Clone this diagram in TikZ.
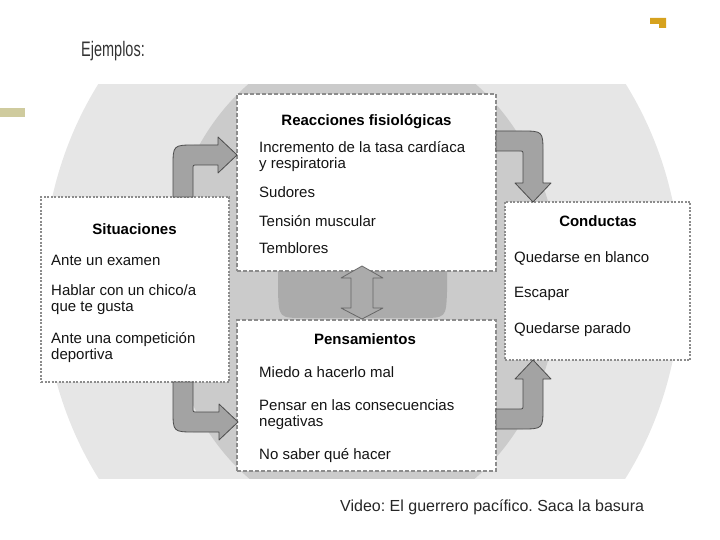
\documentclass[tikz,border=0pt]{standalone}
\usepackage{graphicx}
\usepackage{fontspec}
\setmainfont{Liberation Sans}
\frenchspacing
\usetikzlibrary{calc,positioning}
\definecolor{bgouter}{HTML}{E6E6E6}
\definecolor{bgmid}{HTML}{CBCBCB}
\definecolor{bgdark}{HTML}{ABABAB}
\definecolor{arrowgray}{HTML}{A3A3A3}
\definecolor{edgegray}{HTML}{8C8C8C}
\definecolor{olivebar}{HTML}{CFCB9E}
\definecolor{goldmark}{HTML}{D6A21E}
\definecolor{inkgray}{HTML}{141414}

\tikzset{
  midbox/.style={draw=edgegray, fill=white, line width=1.1pt, dash pattern=on 4pt off 2pt, inner sep=0pt, outer sep=0pt},
  sidebox/.style={midbox, dash pattern=on 2pt off 1.5pt},
  boxtitle/.style={font=\fontsize{15}{16}\selectfont\bfseries, text=black, inner sep=0pt, anchor=base},
  item/.style={font=\fontsize{15}{16}\selectfont, text=inkgray, inner sep=0pt, anchor=base west},
  arrowbody/.style={fill=arrowgray, draw=black!70, line width=0.8pt, line join=round},
  pics/bent/.style 2 args={code={
    \path[arrowbody] (-10,#1) -- (-10,12) .. controls (-10,-10) .. (12,-10)
      -- ({#2-19},-10) -- ({#2-19},-18) -- (#2,0) -- ({#2-19},18) -- ({#2-19},10)
      -- (14,10) .. controls (10,10) .. (10,14) -- (10,#1) -- cycle;
  }}
}

\begin{document}
\begin{tikzpicture}[x=1pt, y=-1pt]
  \useasboundingbox (0,0) rectangle (720,540);

  % Background rings
  \begin{scope}
    \clip (0,85) rectangle (720,478);
    \fill[bgouter] (362,281) ellipse [x radius=319, y radius=350];
    \fill[bgmid] (362,281) ellipse [x radius=197, y radius=241];
  \end{scope}
  \fill[bgdark] (278,268) -- (278,292) .. controls (279,318) .. (305,318)
    -- (420,318) .. controls (446,318) .. (447,292) -- (447,268) -- cycle;

  % Slide marks
  \fill[olivebar] (0,108) rectangle (25,117);
  \fill[goldmark] (650,18) -- (666,18) -- (666,28) -- (659,28) -- (659,24) -- (650,24) -- cycle;
  \node[anchor=base west, inner sep=0pt, font=\fontsize{21}{23}\selectfont, text=black!80] (ejemplos) at (81,57) {\scalebox{0.69}[1]{Ejemplos:}};

  % Boxes
  \node[midbox, minimum width=259pt, minimum height=177pt] (rea) at (366.5,182.5) {};
  \node[midbox, minimum width=259pt, minimum height=151pt] (pen) at (366.5,395.5) {};
  \node[sidebox, minimum width=188pt, minimum height=185pt] (sit) at (135,289.5) {};
  \node[sidebox, minimum width=185pt, minimum height=158pt] (con) at (597.5,281) {};

  % Reacciones
  \node[boxtitle] (rea-t) at (366.5,126) {Reacciones fisiológicas};
  \foreach \txt/\yy [count=\i] in {Incremento de la tasa cardíaca/153, y respiratoria/169, Sudores/198, Tensión muscular/226, Temblores/254}
    \node[item] (rea-\i) at (259,\yy) {\txt};

  % Pensamientos
  \node[boxtitle] (pen-t) at (365,344) {Pensamientos};
  \foreach \txt/\yy [count=\i] in {Miedo a hacerlo mal/377, Pensar en las consecuencias/410, negativas/426, No saber qué hacer/459}
    \node[item] (pen-\i) at (259,\yy) {\txt};

  % Situaciones
  \node[boxtitle] (sit-t) at (134.5,234) {Situaciones};
  \foreach \txt/\yy [count=\i] in {Ante un examen/265, {Hablar con un chico/a}/295, que te gusta/311, Ante una competición/343, deportiva/359}
    \node[item] (sit-\i) at (51,\yy) {\txt};

  % Conductas
  \node[boxtitle] (con-t) at (598,226) {Conductas};
  \foreach \txt/\yy [count=\i] in {Quedarse en blanco/262, Escapar/297, Quedarse parado/333}
    \node[item] (con-\i) at (514,\yy) {\txt};

  % Bent arrows
  \pic[shift={($(sit.north east)+(-46,-42)$)}] {bent={42}{54}};
  \pic[shift={($(sit.south east)+(-46,40)$)}, yscale=-1] {bent={40}{55}};
  \pic[shift={($(rea.north east)+(37,47)$)}, rotate=-90] {bent={37}{61}};
  \pic[shift={($(pen.south east)+(37,-52)$)}, cm={0,1,1,0,(0,0)}] {bent={37}{59}};

  % Double arrow
  \coordinate (up) at ($(rea.south)+(-4.5,-5)$);
  \coordinate (dn) at ($(pen.north)+(-4.5,-1)$);
  \draw[arrowbody, fill=bgdark, draw=black!60] (up) -- ++(21,12) -- ++(-10,0) -- ++(0,30) -- ++(10,0)
    -- (dn) -- ++(-21,-11) -- ++(10,0) -- ++(0,-30) -- ++(-10,0) -- cycle;

  % Caption
  \node[anchor=base west, inner sep=0pt, font=\fontsize{16}{18}\selectfont, text=black!85] (video) at (340,511) {Video: El guerrero pacífico. Saca la basura};
\end{tikzpicture}
\end{document}
